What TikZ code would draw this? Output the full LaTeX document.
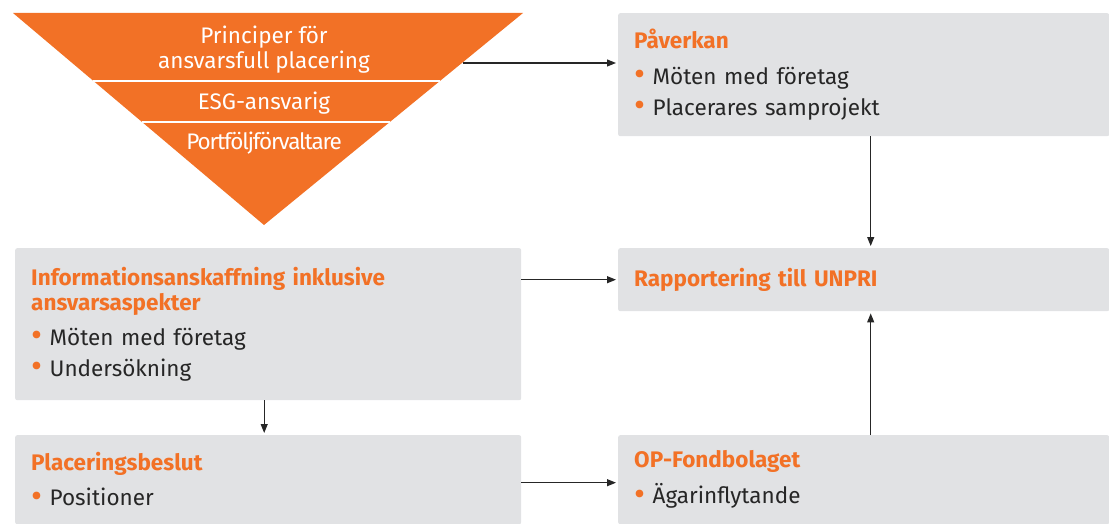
\documentclass[tikz,border=0pt]{standalone}
\usepackage{fontspec}
\setmainfont{Fira Sans}
\usetikzlibrary{positioning, arrows.meta}

\definecolor{oporange}{HTML}{F27126}
\definecolor{boxgray}{HTML}{E1E2E4}
\definecolor{ink}{HTML}{262626}

\newcommand{\bul}{{\color{oporange}\raisebox{-0.12ex}{\scalebox{1.5}{\textbullet}}}\,\,}
\newcommand{\head}[1]{{\color{oporange}\bfseries #1}}

\begin{document}
\begin{tikzpicture}[x=1pt, y=-1pt,
        box/.style={fill=boxgray, rounded corners=2pt, anchor=north west, align=left,
            inner xsep=16pt, inner ysep=0pt, text=ink, font=\fontsize{22.5}{25}\selectfont},
        tritext/.style={text=white, align=center, font=\fontsize{22.5}{25}\selectfont},
        link/.style={draw=ink, line width=1.1pt, -{Triangle[length=9pt, width=7pt]}}]
    \useasboundingbox (0,0) rectangle (1109,524);

    % responsibility funnel
    \fill[oporange] (13,13) -- (523,13) -- (264,225) -- cycle;
    \draw[white, line width=1.2pt] (93,81) -- (440,81);
    \draw[white, line width=1.2pt] (142,122) -- (390,122);
    \node[tritext] (principer) at (264,50) {Principer för\\ansvarsfull placering};
    \node[tritext] (esg) at (264,103) {ESG-ansvarig};
    \node[tritext] (forvaltare) at (264,143) {\addfontfeature{LetterSpace=-5}Portföljförvaltare};
    \coordinate (funnel) at (463,63);

    % boxes
    \node[box, minimum width=491pt, minimum height=123pt, text width=459pt] (paverkan) at (618,13)
        {\head{Påverkan}\\[11pt]\bul Möten med företag\\[6pt]\bul Placerares samprojekt};
    \node[box, minimum width=491pt, minimum height=63pt, text width=459pt] (rapport) at (618,248)
        {\head{Rapportering till UNPRI}};
    \node[box, minimum width=491pt, minimum height=89pt, text width=459pt] (fond) at (618,435)
        {\head{OP-Fondbolaget}\\[10pt]\bul Ägarinflytande};
    \node[box, minimum width=506pt, minimum height=152pt, text width=474pt] (info) at (15,248)
        {\head{Informationsanskaffning inklusive}\\\head{ansvarsaspekter}\\[10pt]\bul Möten med företag\\[6pt]\bul Undersökning};
    \node[box, minimum width=506pt, minimum height=89pt, text width=474pt] (beslut) at (15,435)
        {\head{Placeringsbeslut}\\[10pt]\bul Positioner};

    % arrows
    \draw[link, shorten >=2pt] (funnel) -- (funnel -| paverkan.west);
    \draw[link, shorten >=2pt] ([xshift=7pt]paverkan.south) -- ([xshift=7pt]rapport.north);
    \draw[link, shorten >=2pt] ([xshift=7pt]fond.north) -- ([xshift=7pt]rapport.south);
    \draw[link, shorten >=2pt] (info.east |- rapport.west) -- (rapport.west);
    \draw[link, shorten >=2pt] ([xshift=-4pt]info.south) -- ([xshift=-4pt]beslut.north);
    \draw[link, shorten >=2pt] ([yshift=-3pt]beslut.east) -- ([yshift=-3pt]beslut.east -| fond.west);
\end{tikzpicture}
\end{document}
